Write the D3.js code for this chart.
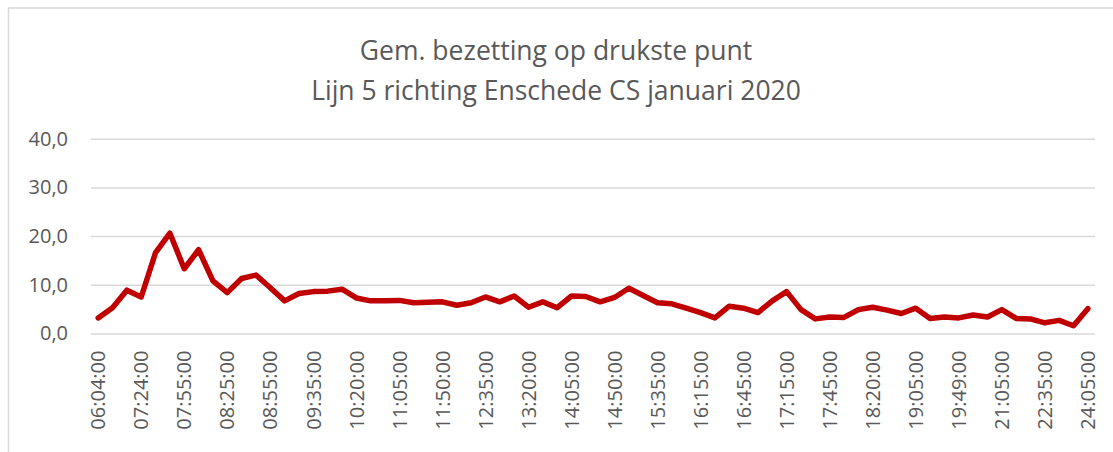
<!DOCTYPE html>
<html lang="nl">
	<head>
		<meta charset="utf-8">
		<script src="https://cdn.jsdelivr.net/npm/d3@7"></script>
		<style>
			body { margin: 0; background: #fff; }
			text { font-family: "Open Sans", sans-serif; fill: #595959; }
		</style>
	</head>
	<body>
		<div id="chart"></div>

		<script type="text/javascript">

			//Width and height
			var w = 1113;
			var h = 452;

			//title lines
			var title = ["Gem. bezetting op drukste punt", "Lijn 5 richting Enschede CS januari 2020"];

			//gemiddelde bezetting per rit (70 ritten)
			var bezetting = [3.2, 5.3, 8.9, 7.5, 16.6, 20.6, 13.3, 17.2, 10.8, 8.4,
				11.3, 12.0, 9.4, 6.7, 8.2, 8.6, 8.7, 9.1, 7.3, 6.7,
				6.7, 6.8, 6.3, 6.4, 6.5, 5.8, 6.3, 7.5, 6.5, 7.7,
				5.4, 6.5, 5.3, 7.7, 7.6, 6.5, 7.4, 9.3, 7.8, 6.3,
				6.1, 5.2, 4.3, 3.2, 5.6, 5.2, 4.3, 6.7, 8.6, 4.9,
				3.0, 3.4, 3.3, 4.9, 5.4, 4.8, 4.1, 5.2, 3.1, 3.4,
				3.2, 3.8, 3.4, 4.9, 3.1, 3.0, 2.2, 2.7, 1.6, 5.1];

			//labels shown on the x axis (every 3rd rit)
			var tijden = ["06:04:00", "07:24:00", "07:55:00", "08:25:00", "08:55:00", "09:35:00",
				"10:20:00", "11:05:00", "11:50:00", "12:35:00", "13:20:00", "14:05:00",
				"14:50:00", "15:35:00", "16:15:00", "16:45:00", "17:15:00", "17:45:00",
				"18:20:00", "19:05:00", "19:49:00", "21:05:00", "22:35:00", "24:05:00"];

			var yTicks = [0, 10, 20, 30, 40];

			var svg = d3.select("#chart")
						.append("svg")
						.attr("width", w)
						.attr("height", h)

			//chart border (runs off the page right/bottom)
			svg.append("rect")
				.attr("x", 8.5)
				.attr("y", 8)
				.attr("width", w + 20)
				.attr("height", h + 20)
				.attr("fill", "none")
				.attr("stroke", "#d9d9d9")
				.attr("stroke-width", 1.5)

			//title
			svg.selectAll(".title")
				.data(title)
				.enter()
				.append("text")
				.attr("class", "title")
				.attr("x", 556)
				.attr("y", (d, i) => 60 + i * 40)
				.attr("text-anchor", "middle")
				.style("font-size", "26.5px")
				.text(d => d)

			//scales
			var x = d3.scaleBand()
						.domain(d3.range(bezetting.length))
						.range([91, 1095])
			var y = d3.scaleLinear()
						.domain([0, 40])
						.range([333.5, 138.7])

			//gridlines + y labels
			var yAxis = svg.append("g")
				.attr("transform", "translate(91,0)")
				.call(d3.axisLeft(y)
					.tickValues(yTicks)
					.tickSize(-(1095 - 91))
					.tickPadding(23)
					.tickFormat(d => d3.format(".1f")(d).replace(".", ",")))
			yAxis.select(".domain").remove()
			yAxis.selectAll("line")
				.attr("stroke", "#d9d9d9")
				.attr("stroke-width", 1.5)
			yAxis.selectAll("text")
				.attr("fill", "#595959")
				.style("font-size", "20px")
				.style("font-family", "Open Sans")

			//x labels, rotated
			var xAxis = svg.append("g")
				.attr("transform", "translate(0,333.5)")
				.call(d3.axisBottom(x)
					.tickValues(d3.range(0, bezetting.length, 3))
					.tickSize(0)
					.tickFormat((d, i) => tijden[i]))
			xAxis.select(".domain").remove()
			xAxis.selectAll("text")
				.attr("fill", "#595959")
				.style("font-size", "20px")
				.style("font-family", "Open Sans")
				.attr("text-anchor", "end")
				.attr("transform", "rotate(-90)")
				.attr("x", -17)
				.attr("y", 0)
				.attr("dy", "0.36em")

			//line
			var line = d3.line()
						.x((d, i) => x(i) + x.bandwidth() / 2)
						.y(d => y(d))

			svg.append("path")
				.datum(bezetting)
				.attr("d", line)
				.attr("fill", "none")
				.attr("stroke", "#c00000")
				.attr("stroke-width", 5.5)
				.attr("stroke-linejoin", "round")
				.attr("stroke-linecap", "round")

		</script>
	</body>
</html>
